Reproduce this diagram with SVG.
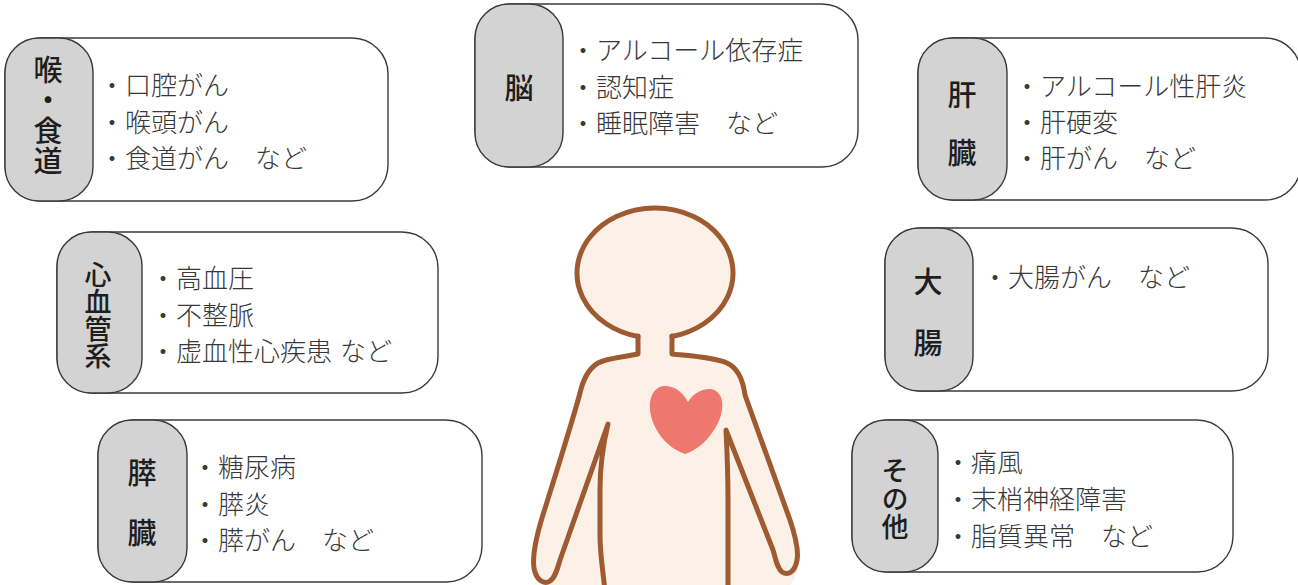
<svg xmlns="http://www.w3.org/2000/svg" width="1298" height="585" viewBox="0 0 1298 585">
  <style>
    .box { fill: #ffffff; stroke: #3a3a3a; stroke-width: 1.4; }
    .tab { fill: #d3d3d3; stroke: #3a3a3a; stroke-width: 1.4; }
    .lbl { font-family: "Noto Sans CJK JP", "Noto Sans", sans-serif; font-size: 29px; font-weight: 500; fill: #1e1e1e; text-anchor: middle; }
    .lbl.sm { font-size: 27px; }
    .vert { writing-mode: vertical-rl; text-orientation: upright; }
    .item { font-family: "Noto Sans CJK JP", "Noto Sans", sans-serif; font-size: 26px; font-weight: 300; fill: #383838; }
    .skin { fill: #fdf0e7; }
    .line { fill: none; stroke: #9e5a30; stroke-width: 5; stroke-linecap: round; stroke-linejoin: round; }
    .heart { fill: #ee776e; }
  </style>

  <rect width="1298" height="585" fill="#ffffff"/>

  <!-- body figure -->
  <g id="figure">
    <ellipse class="skin" cx="655" cy="273" rx="78" ry="65"/>
    <path class="skin" d="M 636,320 L 638,354 C 624,357 607,358 598,363 C 588,369 583,380 580,393 C 570,430 550,492 542,518 C 536,538 532,555 534,568 C 535,578 540,585 545,585 L 790,585 C 796,578 799,568 797,558 C 795,540 790,525 785,510 L 745,395 C 743,380 738,368 727,363 C 712,357 690,356 672,354 L 674,320 Z"/>
    <path class="line" d="M 638,336.5 A 78 65 0 1 1 672,336.5"/>
    <path class="line" d="M 638,336 L 638,354 C 624,357 607,358 598,363 C 588,369 583,380 580,393 C 570,430 550,492 542,518 C 536,538 532,555 534,568 C 536,580 544,585 550,581 C 555,578 557,570 560,560 L 608,424 C 603,445 600,465 600,490 L 600,535 C 600,555 603,570 605,592"/>
    <path class="line" d="M 672,336 L 672,354 C 690,356 712,357 727,363 C 738,368 743,380 745,395 L 790,520 C 795,535 799,550 797,560 C 795,572 788,576 782,572 C 777,568 776,560 773,550 L 726,430 C 727,450 728,470 728,500 L 728,592"/>
    <path class="heart" d="M 688,402 C 682,390 672,385 663,386 C 653,388 649,398 650,410 C 652,428 665,447 685,454 C 700,450 716,432 721,415 C 725,400 720,390 710,389 C 700,389 692,395 688,402 Z"/>
  </g>

  <!-- throat / oesophagus -->
  <g id="node-throat">
    <rect class="box" x="5" y="38" width="383" height="163" rx="36" ry="36"/>
    <rect class="tab" x="5" y="38" width="88" height="163" rx="34" ry="34"/>
    <text class="lbl vert" x="48" y="116" letter-spacing="1.3">喉・食道</text>
    <text class="item" x="99" y="95">・口腔がん</text>
    <text class="item" x="99" y="132">・喉頭がん</text>
    <text class="item" x="99" y="168">・食道がん　など</text>
  </g>

  <!-- brain -->
  <g id="node-brain">
    <rect class="box" x="475" y="4" width="383" height="163" rx="36" ry="36"/>
    <rect class="tab" x="475" y="4" width="88" height="163" rx="34" ry="34"/>
    <text class="lbl" x="519" y="99">脳</text>
    <text class="item" x="570" y="60">・アルコール依存症</text>
    <text class="item" x="570" y="97">・認知症</text>
    <text class="item" x="570" y="133">・睡眠障害　など</text>
  </g>

  <!-- liver -->
  <g id="node-liver">
    <rect class="box" x="918" y="38" width="383" height="162" rx="36" ry="36"/>
    <rect class="tab" x="918" y="38" width="89" height="162" rx="34" ry="34"/>
    <text class="lbl"><tspan x="962" y="106">肝</tspan><tspan x="962" y="164">臓</tspan></text>
    <text class="item" x="1014" y="96">・アルコール性肝炎</text>
    <text class="item" x="1014" y="132">・肝硬変</text>
    <text class="item" x="1014" y="168">・肝がん　など</text>
  </g>

  <!-- cardiovascular -->
  <g id="node-cardio">
    <rect class="box" x="57" y="232" width="381" height="161" rx="36" ry="36"/>
    <rect class="tab" x="57" y="232" width="85" height="161" rx="34" ry="34"/>
    <text class="lbl sm vert" x="98" y="315">心血管系</text>
    <text class="item" x="150" y="288">・高血圧</text>
    <text class="item" x="150" y="325">・不整脈</text>
    <text class="item" x="150" y="361">・虚血性心疾患<tspan dx="8">など</tspan></text>
  </g>

  <!-- large intestine -->
  <g id="node-colon">
    <rect class="box" x="885" y="228" width="383" height="163" rx="36" ry="36"/>
    <rect class="tab" x="885" y="228" width="88" height="163" rx="34" ry="34"/>
    <text class="lbl"><tspan x="928" y="293">大</tspan><tspan x="928" y="354">腸</tspan></text>
    <text class="item" x="982" y="287">・大腸がん　など</text>
  </g>

  <!-- pancreas -->
  <g id="node-pancreas">
    <rect class="box" x="98" y="420" width="384" height="162" rx="36" ry="36"/>
    <rect class="tab" x="98" y="420" width="89" height="162" rx="34" ry="34"/>
    <text class="lbl"><tspan x="142" y="484">膵</tspan><tspan x="142" y="544">臓</tspan></text>
    <text class="item" x="192" y="477">・糖尿病</text>
    <text class="item" x="192" y="514">・膵炎</text>
    <text class="item" x="192" y="550">・膵がん　など</text>
  </g>

  <!-- other -->
  <g id="node-other">
    <rect class="box" x="852" y="420" width="381" height="152" rx="36" ry="36"/>
    <rect class="tab" x="852" y="420" width="86" height="152" rx="34" ry="34"/>
    <text class="lbl sm vert" x="895" y="499" letter-spacing="1">その他</text>
    <text class="item" x="945" y="472">・痛風</text>
    <text class="item" x="945" y="509">・末梢神経障害</text>
    <text class="item" x="945" y="546">・脂質異常　など</text>
  </g>

  <!-- no connectors in this figure -->
  <g id="connectors"/>
</svg>
